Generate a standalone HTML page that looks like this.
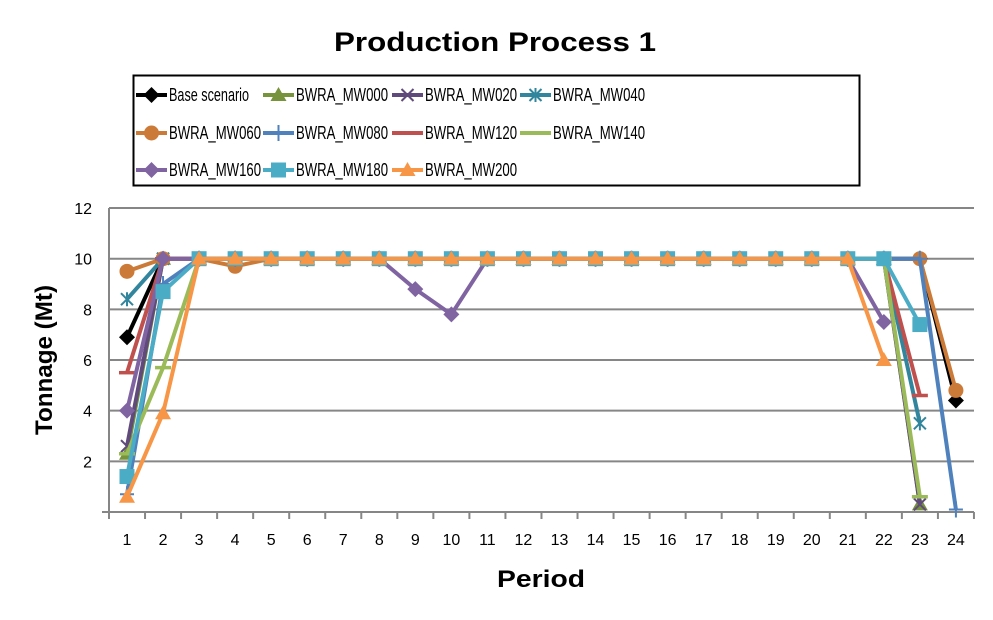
<!DOCTYPE html>
<html><head><meta charset="utf-8"><style>body{margin:0;background:#fff}svg{display:block}text{font-family:"Liberation Sans",sans-serif}</style></head>
<body>
<svg id="s" width="993" height="620" xmlns="http://www.w3.org/2000/svg">
<text x="495" y="51" font-size="27" font-weight="bold" text-anchor="middle" textLength="322" lengthAdjust="spacingAndGlyphs">Production Process 1</text>
<rect x="133.5" y="75.5" width="726" height="110" fill="#fff" stroke="#000" stroke-width="2"/>
<g id="grid" stroke="#868686" stroke-width="2"></g>
<g id="ser"></g>
<g id="lab" font-size="16"></g>
<text x="541" y="587" font-size="24" font-weight="bold" text-anchor="middle" textLength="88" lengthAdjust="spacingAndGlyphs">Period</text>
<text transform="translate(52,360) rotate(-90)" font-size="24" font-weight="bold" text-anchor="middle" textLength="150" lengthAdjust="spacingAndGlyphs">Tonnage (Mt)</text>
<g id="leg" font-size="18"></g>
</svg>
<script>
const NS="http://www.w3.org/2000/svg";
function el(p,t,a,txt){const e=document.createElementNS(NS,t);for(const k in a)e.setAttribute(k,a[k]);if(txt!=null)e.textContent=txt;p.appendChild(e);return e;}
const X=i=>127+36.04*(i-1), Y=v=>512-25.33*v;
const g=document.getElementById('grid'),lab=document.getElementById('lab');
for(let v=2;v<=12;v+=2){el(g,'line',{x1:109,x2:974,y1:Y(v),y2:Y(v)});el(lab,'text',{x:92,y:Y(v)+6,'text-anchor':'end'},v);}
el(g,'line',{x1:109,x2:109,y1:208,y2:519});el(g,'line',{x1:102,x2:974,y1:512,y2:512});
for(let k=0;k<=24;k++){const x=109+36.04*k;el(g,'line',{x1:x,x2:x,y1:512,y2:519});}
for(let i=1;i<=24;i++)el(lab,'text',{x:X(i),y:545,'text-anchor':'middle'},i);
function mk(start,end,vals){const r=[];for(let i=start;i<=end;i++)r.push([i,vals[i]!=null?vals[i]:10]);return r;}
const S=[
["Base scenario","#000","dia",mk(1,24,{1:6.9,24:4.4})],
["BWRA_MW000","#77933C","tri",mk(1,23,{1:2.3,23:0.3})],
["BWRA_MW020","#604A7B","x",mk(1,23,{1:2.6,23:0.3})],
["BWRA_MW040","#31859C","ast",mk(1,23,{1:8.4,23:3.5})],
["BWRA_MW060","#CC7A37","circ",mk(1,24,{1:9.5,4:9.7,24:4.8})],
["BWRA_MW080","#4F81BD","plus",mk(1,24,{1:0.7,2:9.0,24:0.1})],
["BWRA_MW120","#C0504D","dash",mk(1,23,{1:5.5,23:4.6})],
["BWRA_MW140","#9BBB59","dash",mk(1,23,{1:2.3,2:5.7,23:0.6})],
["BWRA_MW160","#8064A2","dia",mk(1,22,{1:4.0,9:8.8,10:7.8,22:7.5})],
["BWRA_MW180","#4BACC6","sq",mk(1,23,{1:1.4,2:8.7,23:7.4})],
["BWRA_MW200","#F79646","tri",mk(1,22,{1:0.6,2:3.9,22:6.0})]
];
function marker(p,t,c,x,y){
 if(t=="dia")el(p,'polygon',{points:`${x},${y-8} ${x+8},${y} ${x},${y+8} ${x-8},${y}`,fill:c});
 else if(t=="tri")el(p,'polygon',{points:`${x},${y-8} ${x+8},${y+6} ${x-8},${y+6}`,fill:c});
 else if(t=="circ")el(p,'circle',{cx:x,cy:y,r:7.5,fill:c});
 else if(t=="sq")el(p,'rect',{x:x-7.5,y:y-7.5,width:15,height:15,fill:c});
 else if(t=="x"){el(p,'path',{d:`M${x-6} ${y-6}L${x+6} ${y+6}M${x-6} ${y+6}L${x+6} ${y-6}`,stroke:c,'stroke-width':2});}
 else if(t=="ast"){el(p,'path',{d:`M${x-6} ${y-6}L${x+6} ${y+6}M${x-6} ${y+6}L${x+6} ${y-6}M${x} ${y-7}L${x} ${y+7}`,stroke:c,'stroke-width':2});}
 else if(t=="plus"){el(p,'path',{d:`M${x-7} ${y}L${x+7} ${y}M${x} ${y-8}L${x} ${y+8}`,stroke:c,'stroke-width':2});}
 else if(t=="dash"){el(p,'path',{d:`M${x-8} ${y}L${x+8} ${y}`,stroke:c,'stroke-width':3.5});}
}
const ser=document.getElementById('ser');
S.forEach(s=>{const gg=el(ser,'g',{});
 el(gg,'polyline',{points:s[3].map(p=>X(p[0])+","+Y(p[1])).join(" "),fill:"none",stroke:s[1],'stroke-width':4,'stroke-linejoin':'round'});
 s[3].forEach(p=>marker(gg,s[2],s[1],X(p[0]),Y(p[1])));});
const leg=document.getElementById('leg');
const cx=[136,263,392,520],ry=[95,133,170];
S.forEach((s,k)=>{const c=k%4,r=Math.floor(k/4),x=cx[c],y=ry[r];
 el(leg,'line',{x1:x,x2:x+31,y1:y,y2:y,stroke:s[1],'stroke-width':4});
 marker(leg,s[2],s[1],x+15.5,y);
 const t=el(leg,'text',{x:x+33,y:y+6,textLength:(k==0?80:92),lengthAdjust:'spacingAndGlyphs'},s[0]);});
</script>
</body></html>
